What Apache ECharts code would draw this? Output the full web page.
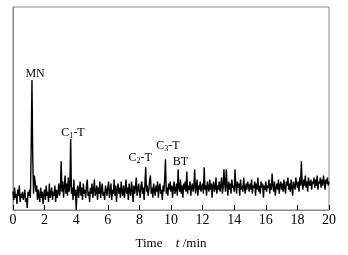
<!DOCTYPE html>
<html>
<head>
<meta charset="utf-8">
<script src="https://cdn.jsdelivr.net/npm/echarts@6/dist/echarts.min.js"></script>
<style>
    html, body { margin: 0; padding: 0; background: #fff; }
    #chart { width: 348px; height: 255px; }
</style>
</head>
<body>
<div id="chart"></div>
<script>
    // detector signal, one reading every 0.05 min from 0 to 20 min
    const sampleStep = 0.05
    const signal = [
        9, 5, 11, 6, 8, 3, 10, 7, 12, 4, 8, 6, 9, 5, 7, 10, 4, 6, 1, 9,
        7, 10, 6, 30, 64, 26, 8, 17, 14, 9, 12, 5, 10, 7, 4, 11, 6, 9, 3, 8,
        10, 5, 12, 7, 9, 4, 13, 6, 8, 11, 5, 9, 7, 12, 4, 10, 6, 9, 13, 7,
        11, 24, 9, 14, 6, 12, 17, 8, 13, 7, 16, 9, 12, 35, 8, 11, 5, 15, 7, 10,
        0, 9, 12, 6, 10, 14, 7, 11, 5, 13, 8, 10, 6, 12, 15, 7, 9, 4, 11, 8,
        13, 6, 10, 15, 7, 9, 12, 5, 11, 8, 14, 6, 10, 13, 7, 9, 5, 12, 10, 7,
        11, 14, 6, 9, 13, 5, 10, 8, 15, 7, 12, 4, 10, 13, 8, 11, 6, 14, 9, 7,
        12, 6, 10, 15, 8, 11, 5, 13, 9, 7, 14, 10, 4, 12, 8, 11, 16, 7, 10, 13,
        9, 6, 12, 14, 8, 11, 5, 13, 21, 9, 12, 7, 10, 15, 17, 8, 11, 6, 13, 10,
        7, 12, 9, 14, 6, 11, 13, 8, 10, 5, 12, 9, 15, 25, 8, 11, 7, 13, 10, 14,
        9, 12, 6, 11, 14, 8, 10, 13, 7, 20, 11, 9, 15, 8, 12, 6, 13, 10, 14, 9,
        19, 8, 12, 10, 14, 7, 11, 13, 9, 12, 20, 8, 11, 15, 7, 12, 10, 14, 9, 11,
        13, 8, 21, 10, 12, 7, 14, 11, 9, 15, 10, 13, 6, 12, 14, 9, 11, 16, 8, 12,
        10, 14, 9, 12, 16, 8, 11, 20, 13, 9, 20, 12, 7, 14, 10, 13, 8, 15, 11, 12,
        9, 20, 12, 8, 14, 11, 13, 7, 15, 10, 12, 9, 16, 11, 8, 13, 10, 14, 12, 9,
        13, 10, 15, 8, 12, 11, 14, 7, 13, 10, 16, 9, 12, 8, 14, 11, 13, 6, 12, 10,
        14, 9, 12, 11, 15, 8, 13, 10, 18, 12, 9, 14, 7, 11, 13, 10, 15, 8, 12, 14,
        10, 13, 9, 15, 11, 8, 14, 12, 16, 10, 13, 9, 15, 11, 7, 14, 12, 10, 16, 13,
        11, 14, 9, 16, 12, 24, 13, 10, 15, 12, 17, 11, 14, 9, 16, 13, 12, 15, 10, 14,
        13, 16, 11, 15, 12, 17, 10, 14, 13, 16, 11, 15, 12, 17, 14, 10, 15, 13, 16, 12,
        14
    ]
    // peak labels: [time, height, rich text]
    const peakLabels = [
        [1.4, 67, '{n|MN}'],
        [3.8, 38, '{n|C}{s|1}{n|-T}'],
        [8.05, 25.5, '{n|C}{s|2}{n|-T}'],
        [9.8, 31.5, '{n|C}{s|3}{n|-T}'],
        [10.6, 23.5, '{n|BT}']
    ]
    const xTicks = [0, 20, 2]

    const chart = echarts.init(document.getElementById('chart'))
    const serif = '"Liberation Serif", "DejaVu Serif", serif'

    chart.setOption({
        animation: false,
        grid: {
            left: 13,
            right: 19,
            top: 7,
            bottom: 39,
            show: true,
            borderColor: '#8a8a8a',
            borderWidth: 1
        },
        xAxis: {
            type: 'value',
            min: xTicks[0],
            max: xTicks[1],
            interval: xTicks[2],
            name: '{a|Time}    {i|t} {a|/min}',
            nameLocation: 'middle',
            nameGap: 27,
            nameTextStyle: {
                rich: {
                    a: { fontFamily: serif, fontSize: 13, color: '#000' },
                    i: { fontFamily: serif, fontSize: 13, fontStyle: 'italic', color: '#000' }
                }
            },
            axisLine: { show: true, lineStyle: { color: '#8a8a8a' } },
            axisTick: { inside: true, length: 5, lineStyle: { color: '#000' } },
            axisLabel: { margin: 3, fontFamily: serif, fontSize: 14, color: '#000' },
            splitLine: { show: false }
        },
        yAxis: {
            type: 'value',
            min: 0,
            max: 100,
            axisLine: { show: true, lineStyle: { color: '#8a8a8a' } },
            axisTick: { show: false },
            axisLabel: { show: false },
            splitLine: { show: false }
        },
        series: [{
            type: 'line',
            data: signal.map((v, i) => [i * sampleStep, v]),
            showSymbol: false,
            lineStyle: { color: '#000', width: 1.4 },
            markPoint: {
                symbol: 'circle',
                symbolSize: 0,
                label: {
                    show: true,
                    position: 'inside',
                    color: '#000',
                    rich: {
                        n: { fontFamily: serif, fontSize: 12, color: '#000' },
                        s: { fontFamily: serif, fontSize: 8, color: '#000', verticalAlign: 'bottom', padding: [6, 0, 0, 0] }
                    },
                    formatter: p => p.data.text
                },
                data: peakLabels.map(d => ({ coord: [d[0], d[1]], text: d[2] }))
            }
        }]
    })
</script>
</body>
</html>
